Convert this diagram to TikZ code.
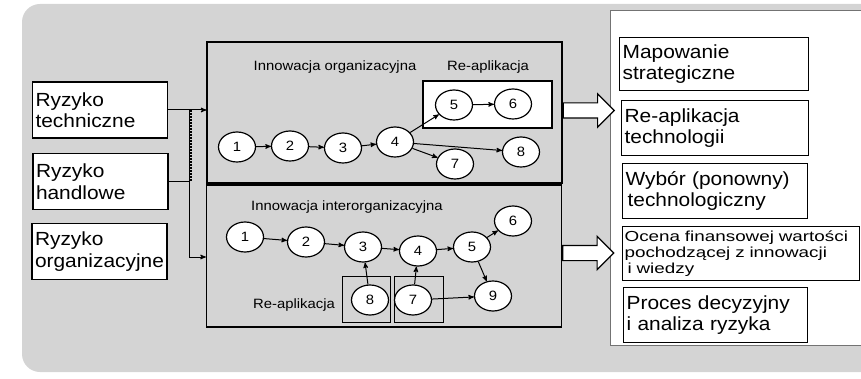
\documentclass[tikz,border=0pt]{standalone}
\usepackage{fontspec}
\setmainfont{Liberation Sans}[FakeStretch=1.1]
\newfontfamily\szeroki{Liberation Sans}[FakeStretch=1.3]
\usetikzlibrary{arrows,shapes,positioning}

\begin{document}
\begin{tikzpicture}[->,>=stealth',x=1pt,y=-1pt,line width=1pt]
        \tikzstyle{ryzyko}=[draw, line width=1.2pt, fill=white, align=left, text width=129pt, minimum height=56pt, inner xsep=3pt, font=\fontsize{19}{21.5}\selectfont]
        \tikzstyle{etap}=[ellipse, draw, line width=1.2pt, fill=white, minimum width=37pt, minimum height=30pt, inner sep=0pt, font=\fontsize{13.5}{15}\selectfont]
        \tikzstyle{panel}=[draw, line width=1.2pt, minimum width=355pt, minimum height=141pt]
        \tikzstyle{tytul}=[font=\fontsize{13.5}{15}\selectfont]
        \tikzstyle{wynik}=[draw, line width=1.2pt, fill=white, anchor=north west, align=left, inner xsep=3pt, font=\fontsize{19}{21.5}\selectfont]
        \tikzstyle{duza strzalka}=[single arrow, draw, line width=1.2pt, fill=white, minimum height=51pt, minimum width=32pt, inner sep=7pt, single arrow head extend=9pt, anchor=tail]

        \useasboundingbox (0,0) rectangle (861,379);
        \path[fill=black!17, rounded corners=18pt] (22,4) rectangle (880,372);
        \node[draw=black!55, thin, fill=white, anchor=north west, minimum width=270pt, minimum height=335pt] (wyniki) at (610,10) {};

        % rodzaje ryzyka
        \node[ryzyko] (tech)  at (100,110)     {Ryzyko\\techniczne};
        \node[ryzyko] (handl) at (100.5,181.5) {Ryzyko\\handlowe};
        \node[ryzyko] (org)   at (99.5,251.5)  {Ryzyko\\organizacyjne};

        % dwa procesy innowacji
        \node[panel] (gorny) at (384.5,112.5) {};
        \node[panel, minimum height=142pt] (dolny) at (384,256) {};

        \node[tytul] (t1) at (335,67)  {Innowacja organizacyjna};
        \node[tytul] (t2) at (488,67)  {Re-aplikacja};
        \node[draw, line width=1.2pt, fill=white, minimum width=129pt, minimum height=47pt] (reapl) at (487.5,104.5) {};
        \node[tytul] (t3) at (347,207) {Innowacja interorganizacyjna};
        \node[tytul] (t4) at (294,305) {Re-aplikacja};
        \node[draw, minimum width=48pt, minimum height=46pt] (ramka8) at (366,299) {};
        \node[draw, minimum width=49pt, minimum height=46pt] (ramka7) at (418.5,299) {};

        \foreach \n/\x/\y in {1/237/147, 2/290/146, 3/343/148, 4/395/142, 5/454/105, 6/513/104, 7/455/164, 8/521/152}
          \node[etap] (g\n) at (\x,\y) {\n};
        \foreach \n/\x/\y in {1/245/237, 2/306/242, 3/363/247, 4/418/251, 5/472/247, 6/513/221, 7/413/300, 8/370/300, 9/493/296}
          \node[etap] (d\n) at (\x,\y) {\n};

        \foreach \a/\b in {g1/g2, g2/g3, g3/g4, g4/g5, g5/g6, g4/g7, g4/g8}
          \draw (\a) -- (\b);
        \foreach \a/\b in {d1/d2, d2/d3, d3/d4, d4/d5, d5/d6, d5/d9, d8/d3, d7/d4, d7/d9}
          \draw (\a) -- (\b);

        % polaczenia z lewej
        \coordinate (szyna) at (189,257);
        \coordinate (drabina) at (190,0);
        \draw (tech.east) -- (tech.east -| gorny.west);
        \draw[-] (handl.east) -- (handl.east -| szyna);
        \draw[-] (szyna |- tech.east) -- (szyna);
        \draw (szyna) -- (szyna -| dolny.west);
        \draw[-, line width=3pt, dash pattern=on 0.7pt off 0.8pt] (drabina |- tech.east) -- (drabina |- handl.east);

        % duze strzalki
        \node[duza strzalka] (s1) at ([yshift=2pt]gorny.east) {};
        \node[duza strzalka] (s2) at ([yshift=3pt]dolny.east) {};

        % wyniki
        \node[wynik, text width=183pt, minimum height=53pt] (w1) at (619,37)  {Mapowanie\\strategiczne};
        \node[wynik, text width=181pt, minimum height=55pt] (w2) at (621,100) {Re-aplikacja\\technologii};
        \node[wynik, text width=179pt, minimum height=55pt] (w3) at (622,163) {Wybór (ponowny)\\\hspace*{2pt}technologiczny};
        \node[wynik, text width=233pt, minimum height=54pt, inner xsep=2pt, font=\szeroki\fontsize{14.5}{16}\selectfont] (w4) at (622,226) {Ocena finansowej wartości\\pochodzącej z innowacji\\\hspace*{3pt}i wiedzy};
        \node[wynik, text width=178pt, minimum height=55pt] (w5) at (623,287) {Proces decyzyjny\\i analiza ryzyka};
\end{tikzpicture}
\end{document}
